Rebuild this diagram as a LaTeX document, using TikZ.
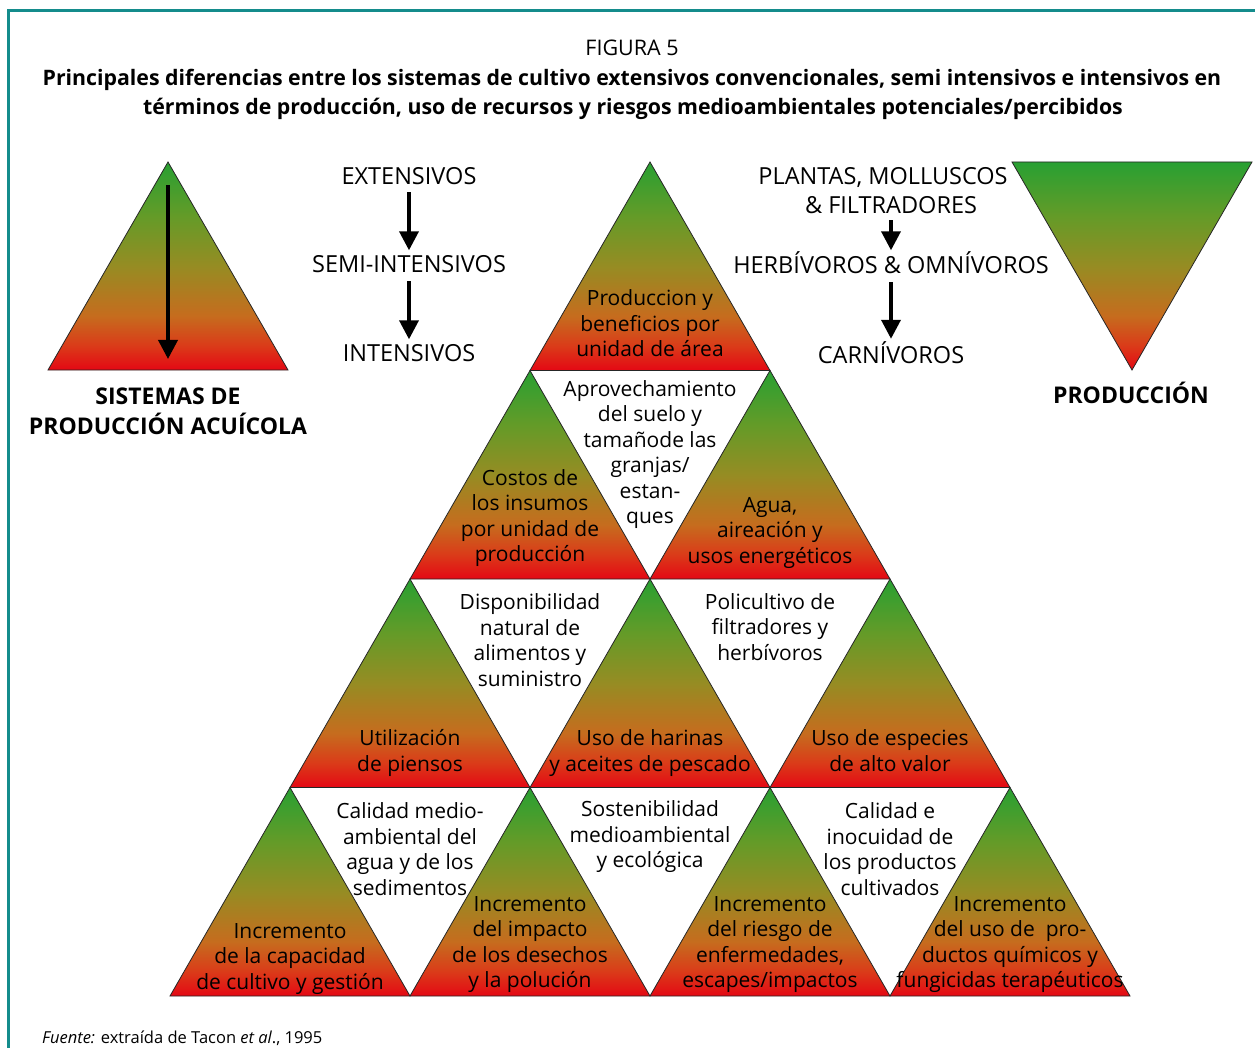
\documentclass[tikz,border=0pt]{standalone}
\usepackage{fontspec}
\setmainfont{Open Sans}
\usetikzlibrary{arrows.meta,positioning}

\definecolor{framecol}{RGB}{20,140,140}
\definecolor{cgreen}{RGB}{40,160,50}
\definecolor{cgreenb}{RGB}{100,155,40}
\definecolor{colive}{RGB}{150,140,35}
\definecolor{corange}{RGB}{198,108,30}
\definecolor{credb}{RGB}{218,60,25}
\definecolor{cred}{RGB}{228,8,20}

\pgfdeclareverticalshading{greenred}{100bp}{color(0bp)=(cred); color(25bp)=(cred);
  color(31bp)=(credb); color(38bp)=(corange); color(50bp)=(colive);
  color(62bp)=(cgreenb); color(75bp)=(cgreen); color(100bp)=(cgreen)}

\tikzset{
  tri/.style={draw=black!85, line width=0.8pt, shading=greenred},
  lbl/.style={font=\fontsize{21}{25.5}\selectfont, align=center, inner sep=0pt},
  hdr/.style={font=\fontsize{23.5}{26}\selectfont, inner sep=0pt, anchor=base,
    text height=15pt, text depth=0pt},
  boldhdr/.style={font=\bfseries\fontsize{23}{30}\selectfont, inner sep=0pt, align=center},
  arr/.style={-{Triangle[width=19pt,length=19pt]}, line width=3.7pt},
}

\begin{document}
\begin{tikzpicture}[x=1pt,y=-1pt]
\useasboundingbox (0,0) rectangle (1255,1048);
\clip (0,0) rectangle (1255,1048);

% frame
\draw[framecol, line width=2.5pt] (8.7,1100) -- (8.7,10.7) -- (1300,10.7);

% title
\node[font=\fontsize{21.5}{24}\selectfont, anchor=base] (fig) at (632,55.5) {FIGURA 5};
\node[font=\bfseries\fontsize{21.3}{29}\selectfont, anchor=base] (title1) at (632,85.5)
  {Principales diferencias entre los sistemas de cultivo extensivos convencionales, semi intensivos e intensivos en};
\node[font=\bfseries\fontsize{21.3}{29}\selectfont, anchor=base] (title2) at (633,114.5)
  {términos de producción, uso de recursos y riesgos medioambientales potenciales/percibidos};

% left triangle
\shade[tri] (168,162) -- (288,370) -- (48,370) -- cycle;
\coordinate (sysTop) at (168,185);
\coordinate (sysBot) at (168,359);
\draw[arr] (sysTop) -- (sysBot);
\node[boldhdr, anchor=north] (sys) at (168,387.5) {SISTEMAS DE\\PRODUCCIÓN ACUÍCOLA};

% right triangle
\shade[tri] (1012,162) -- (1252,162) -- (1132,370) -- cycle;
\node[boldhdr, anchor=base] (prodlbl) at (1131,403.5) {PRODUCCIÓN};

% systems column
\node[hdr] (ext) at (409,184.5) {EXTENSIVOS};
\node[hdr] (semi) at (409,273) {SEMI-INTENSIVOS};
\node[hdr] (inten) at (409,362) {INTENSIVOS};
\draw[arr, shorten <=7.5pt, shorten >=7.5pt] (ext) -- (semi);
\draw[arr, shorten <=8pt, shorten >=7.5pt] (semi) -- (inten);

% species column
\node[hdr] (plant) at (883,185) {PLANTAS, MOLLUSCOS};
\node[hdr] (filt) at (891,214) {\& FILTRADORES};
\node[hdr] (herb) at (891,274) {HERBÍVOROS \& OMNÍVOROS};
\node[hdr] (carn) at (891,363) {CARNÍVOROS};
\draw[arr, shorten <=6pt, shorten >=8.5pt] (filt) -- (herb);
\draw[arr, shorten <=8pt, shorten >=9pt] (herb) -- (carn);

% pyramid
\foreach \r in {0,...,3}
 \foreach \c in {0,...,\r} {
  \pgfmathsetmacro{\ax}{650-120*\r+240*\c}
  \pgfmathsetmacro{\ay}{162+208.5*\r}
  \shade[tri] (\ax,\ay) -- ++(120,208.5) -- ++(-240,0) -- cycle;
 }

% row 1
\node[lbl] (prodarea) at (650,323.5) {Produccion y\\beneficios por\\unidad de área};
% row 2
\node[lbl] (costos) at (530,518) {Costos de\\los insumos\\por unidad de\\producción};
\node[lbl] (suelo) at (650,454.5) {Aprovechamiento\\del suelo y\\tamañode las\\granjas/\\estan-\\ques};
\node[lbl] (agua) at (770,532.5) {Agua,\\aireación y\\usos energéticos};
% row 3
\node[lbl] (piensos) at (410,753) {Utilización\\de piensos};
\node[lbl] (dispo) at (530,640) {Disponibilidad\\natural de\\alimentos y\\suministro};
\node[lbl] (harinas) at (650,753) {Uso de harinas\\y aceites de pescado};
\node[lbl] (policult) at (770,627) {Policultivo de\\filtradores y\\herbívoros};
\node[lbl] (especies) at (890,750.5) {Uso de especies\\de alto valor};
% row 4
\node[lbl] (capac) at (290,959) {Incremento\\de la capacidad\\de cultivo y gestión};
\node[lbl] (calagua) at (410,849) {Calidad medio-\\ambiental del\\agua y de los\\sedimentos};
\node[lbl] (impacto) at (530,944.5) {Incremento\\del impacto\\de los desechos\\y la polución};
\node[lbl] (sosten) at (650,837) {Sostenibilidad\\medioambiental\\y ecológica};
\node[lbl] (riesgo) at (770,944.5) {Incremento\\del riesgo de\\enfermedades,\\escapes/impactos};
\node[lbl] (inocu) at (890,849) {Calidad e\\inocuidad de\\los productos\\cultivados};
\node[lbl] (quim) at (1010,944.5) {Incremento\\del uso de\ \ pro-\\ductos químicos y\\fungicidas terapéuticos};

% source
\node[font=\fontsize{16.5}{18}\selectfont, anchor=base west, inner sep=0pt] (fuente) at (42,1043)
  {\textit{Fuente:} extraída de Tacon \textit{et al}., 1995};
\end{tikzpicture}
\end{document}
